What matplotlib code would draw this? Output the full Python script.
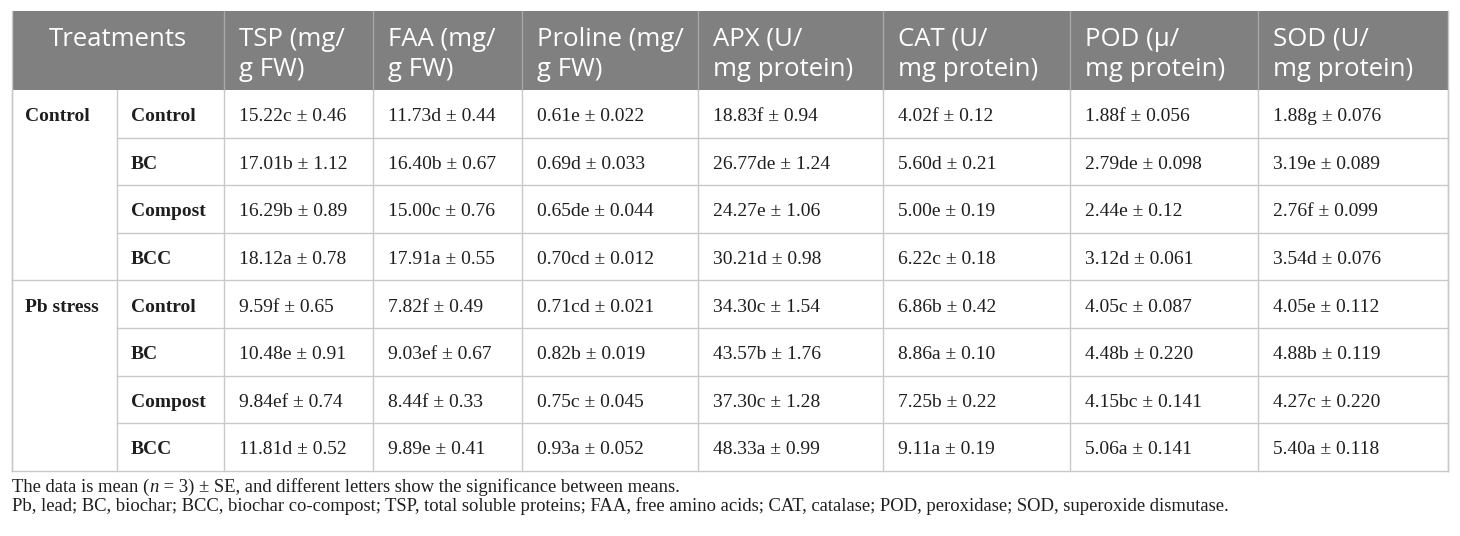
import matplotlib
matplotlib.use("Agg")
import matplotlib.pyplot as plt

# header and row labels
headers = ["TSP (mg/\ng FW)", "FAA (mg/\ng FW)", "Proline (mg/\ng FW)", "APX (U/\nmg protein)",
           "CAT (U/\nmg protein)", "POD (\u03bc/\nmg protein)", "SOD (U/\nmg protein)"]
groups = ["Control", "Pb stress"]
treatments = ["Control", "BC", "Compost", "BCC"]

# values per variable (mean, letter, SE), rows: Control x4 then Pb stress x4
tsp_mean = ["15.22", "17.01", "16.29", "18.12", "9.59", "10.48", "9.84", "11.81"]
tsp_let = ["c", "b", "b", "a", "f", "e", "ef", "d"]
tsp_se = ["0.46", "1.12", "0.89", "0.78", "0.65", "0.91", "0.74", "0.52"]

faa_mean = ["11.73", "16.40", "15.00", "17.91", "7.82", "9.03", "8.44", "9.89"]
faa_let = ["d", "b", "c", "a", "f", "ef", "f", "e"]
faa_se = ["0.44", "0.67", "0.76", "0.55", "0.49", "0.67", "0.33", "0.41"]

pro_mean = ["0.61", "0.69", "0.65", "0.70", "0.71", "0.82", "0.75", "0.93"]
pro_let = ["e", "d", "de", "cd", "cd", "b", "c", "a"]
pro_se = ["0.022", "0.033", "0.044", "0.012", "0.021", "0.019", "0.045", "0.052"]

apx_mean = ["18.83", "26.77", "24.27", "30.21", "34.30", "43.57", "37.30", "48.33"]
apx_let = ["f", "de", "e", "d", "c", "b", "c", "a"]
apx_se = ["0.94", "1.24", "1.06", "0.98", "1.54", "1.76", "1.28", "0.99"]

cat_mean = ["4.02", "5.60", "5.00", "6.22", "6.86", "8.86", "7.25", "9.11"]
cat_let = ["f", "d", "e", "c", "b", "a", "b", "a"]
cat_se = ["0.12", "0.21", "0.19", "0.18", "0.42", "0.10", "0.22", "0.19"]

pod_mean = ["1.88", "2.79", "2.44", "3.12", "4.05", "4.48", "4.15", "5.06"]
pod_let = ["f", "de", "e", "d", "c", "b", "bc", "a"]
pod_se = ["0.056", "0.098", "0.12", "0.061", "0.087", "0.220", "0.141", "0.141"]

sod_mean = ["1.88", "3.19", "2.76", "3.54", "4.05", "4.88", "4.27", "5.40"]
sod_let = ["g", "e", "f", "d", "e", "b", "c", "a"]
sod_se = ["0.076", "0.089", "0.099", "0.076", "0.112", "0.119", "0.220", "0.118"]

columns = [(tsp_mean, tsp_let, tsp_se), (faa_mean, faa_let, faa_se), (pro_mean, pro_let, pro_se),
           (apx_mean, apx_let, apx_se), (cat_mean, cat_let, cat_se), (pod_mean, pod_let, pod_se),
           (sod_mean, sod_let, sod_se)]

# first note has an italic "n", so it is kept in pieces
note1_parts = [("The data is mean (", "normal"), ("n", "italic"),
               (" = 3) \u00b1 SE, and different letters show the significance between means.", "normal")]
note2 = ("Pb, lead; BC, biochar; BCC, biochar co-compost; TSP, total soluble proteins; FAA, free amino acids; "
         "CAT, catalase; POD, peroxidase; SOD, superoxide dismutase.")

# layout (pixels)
W, H = 1460, 536
edges = [12, 117, 224, 373, 522, 698, 883, 1070, 1258, 1448]
top, head_bot, row_h = 11, 90, 47.6
grid = "#c9c9c9"
head_bg = "#808080"
serif = "Liberation Serif"
sans = "Open Sans"
ink = "#1e1e1e"

fig = plt.figure(figsize=(W / 100, H / 100), dpi=100)
ax = fig.add_axes([0, 0, 1, 1])
ax.set_xlim(0, W)
ax.set_ylim(H, 0)
ax.axis("off")

n_rows = len(groups) * len(treatments)
bottom = head_bot + n_rows * row_h

# header band
ax.add_patch(plt.Rectangle((edges[0], top), edges[-1] - edges[0], head_bot - top,
                           facecolor=head_bg, edgecolor="none"))
for x in edges[2:-1]:
    ax.plot([x, x], [top, head_bot], color="#a8a8a8", lw=1)
ax.text((edges[0] + edges[2]) / 2, 39, "Treatments", ha="center", va="center",
        color="white", fontsize=18.5, family=sans)
for j, h in enumerate(headers):
    l1, l2 = h.split("\n")
    ax.text(edges[j + 2] + 15, 39, l1, ha="left", va="center", color="white", fontsize=18.5, family=sans)
    ax.text(edges[j + 2] + 15, 69, l2, ha="left", va="center", color="white", fontsize=18.5, family=sans)

# body grid
for x in edges:
    ax.plot([x, x], [head_bot, bottom], color=grid, lw=1)
ax.plot([edges[0], edges[0]], [top, bottom], color=grid, lw=1)
ax.plot([edges[-1], edges[-1]], [top, bottom], color=grid, lw=1)
for i in range(1, n_rows + 1):
    y = head_bot + i * row_h
    x0 = edges[0] if i % len(treatments) == 0 else edges[1]
    ax.plot([x0, edges[-1]], [y, y], color=grid, lw=1)

# body text
for g, grp in enumerate(groups):
    gy = head_bot + g * len(treatments) * row_h + row_h / 2 + 3
    ax.text(edges[0] + 13, gy, grp, ha="left", va="center", fontsize=14,
            family=serif, weight="bold", color=ink)
    for t, trt in enumerate(treatments):
        r = g * len(treatments) + t
        y = head_bot + r * row_h + row_h / 2 + 3
        ax.text(edges[1] + 14, y, trt, ha="left", va="center", fontsize=14,
                family=serif, weight="bold", color=ink)
        for j, (m, lt, se) in enumerate(columns):
            ax.text(edges[j + 2] + 15, y, f"{m[r]}{lt[r]} \u00b1 {se[r]}",
                    ha="left", va="center", fontsize=14, family=serif, color=ink)

# footnotes
renderer = fig.canvas.get_renderer()
x = edges[0]
for txt, style in note1_parts:
    t = ax.text(x, 492, txt, ha="left", va="baseline", fontsize=13.4, family=serif,
                style=style, color=ink)
    bb = t.get_window_extent(renderer=renderer)
    x = ax.transData.inverted().transform((bb.x1, 0))[0]
ax.text(edges[0], 511, note2, ha="left", va="baseline", fontsize=13.4, family=serif, color=ink)

fig.savefig("out.png", dpi=100, facecolor="white")
